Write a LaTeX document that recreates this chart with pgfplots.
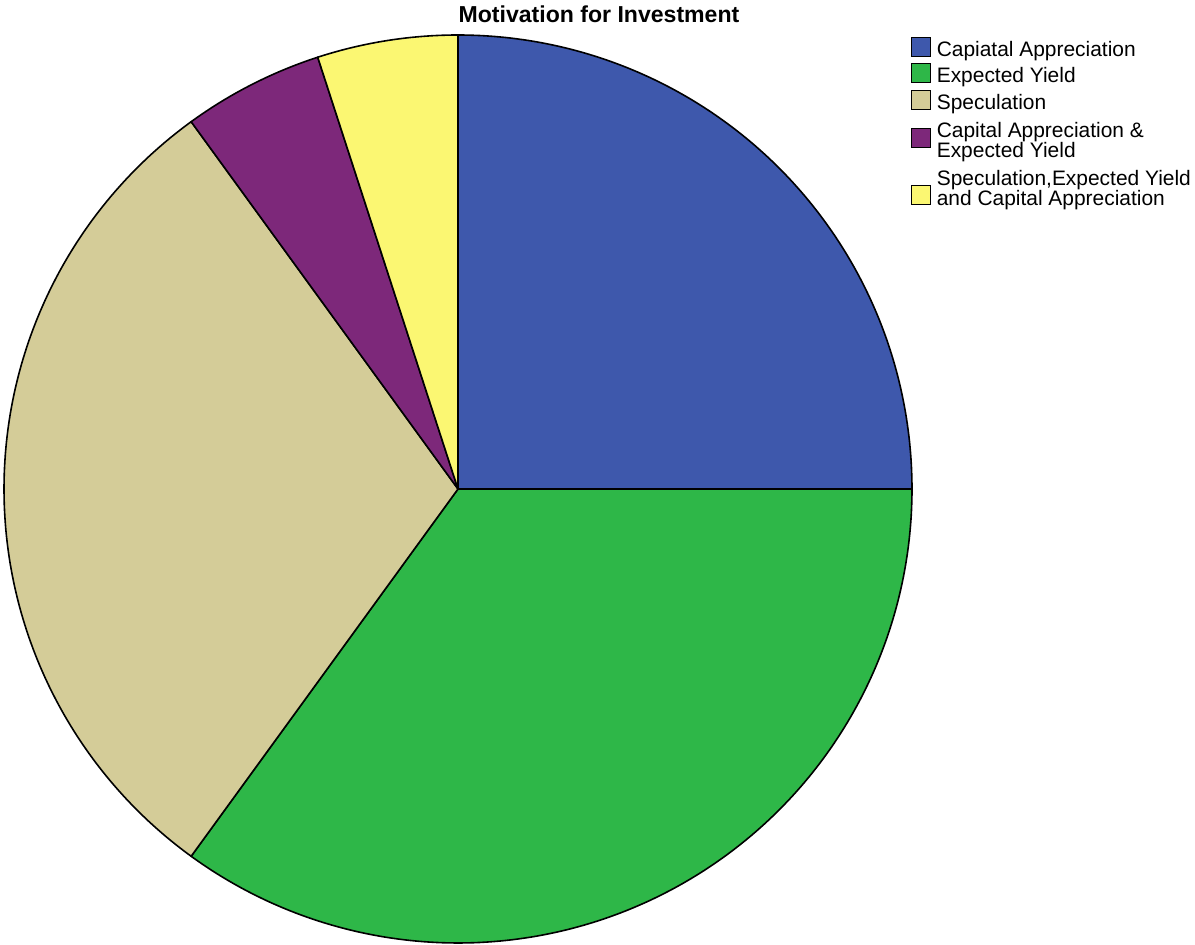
\documentclass[border=0pt]{standalone}
\usepackage{pgfplots}
\pgfplotsset{compat=1.18}
\usepackage{fontspec}
\setmainfont{Liberation Sans}
\definecolor{cBlue}{RGB}{62,88,172}
\definecolor{cGreen}{RGB}{46,183,72}
\definecolor{cTan}{RGB}{212,204,152}
\definecolor{cPurple}{RGB}{125,40,122}
\definecolor{cYellow}{RGB}{251,247,114}
% slice percentages, clockwise from 12 o'clock
\def\pA{25}% Capiatal Appreciation
\def\pB{35}% Expected Yield
\def\pC{30}% Speculation
\def\pD{5}%  Capital Appreciation & Expected Yield
\def\pE{5}%  Speculation, Expected Yield and Capital Appreciation
\begin{document}
\begin{tikzpicture}
\path[use as bounding box] (0,0) rectangle (896.25pt,708.75pt);
\pgfmathsetmacro\aO{90}
\pgfmathsetmacro\aA{\aO-3.6*\pA}
\pgfmathsetmacro\aB{\aA-3.6*\pB}
\pgfmathsetmacro\aC{\aB-3.6*\pC}
\pgfmathsetmacro\aD{\aC-3.6*\pD}
\pgfmathsetmacro\aE{\aD-3.6*\pE}
\begin{axis}[at={(343.5pt,342pt)}, anchor=center, scale only axis,
  width=681pt, height=681pt, xmin=-1, xmax=1, ymin=-1, ymax=1,
  hide axis, clip=false]
\addplot[fill=cBlue, draw=black, line width=1.2pt, line join=round, domain=\aA:\aO, samples=120, variable=\t] ({cos(\t)},{sin(\t)}) -- (axis cs:0,0) -- cycle;
\addplot[fill=cGreen, draw=black, line width=1.2pt, line join=round, domain=\aB:\aA, samples=160, variable=\t] ({cos(\t)},{sin(\t)}) -- (axis cs:0,0) -- cycle;
\addplot[fill=cTan, draw=black, line width=1.2pt, line join=round, domain=\aC:\aB, samples=140, variable=\t] ({cos(\t)},{sin(\t)}) -- (axis cs:0,0) -- cycle;
\addplot[fill=cPurple, draw=black, line width=1.2pt, line join=round, domain=\aD:\aC, samples=40, variable=\t] ({cos(\t)},{sin(\t)}) -- (axis cs:0,0) -- cycle;
\addplot[fill=cYellow, draw=black, line width=1.2pt, line join=round, domain=\aE:\aD, samples=40, variable=\t] ({cos(\t)},{sin(\t)}) -- (axis cs:0,0) -- cycle;
\end{axis}
% title
\node[anchor=base, inner sep=0, font=\fontsize{17.3pt}{20pt}\selectfont\bfseries] at (449.25pt,691.7pt) {Motivation for Investment};
% legend
\begin{scope}[every node/.style={anchor=base west, inner sep=0, font=\fontsize{15.7pt}{19pt}\selectfont}]
\draw[fill=cBlue, line width=1.2pt] (683.6pt,666.4pt) rectangle (697.9pt,680.7pt);
\draw[fill=cGreen, line width=1.2pt] (683.6pt,646.9pt) rectangle (697.9pt,661.2pt);
\draw[fill=cTan, line width=1.2pt] (683.6pt,626.6pt) rectangle (697.9pt,640.9pt);
\draw[fill=cPurple, line width=1.2pt] (683.6pt,598.1pt) rectangle (697.9pt,612.4pt);
\draw[fill=cYellow, line width=1.2pt] (683.6pt,555.4pt) rectangle (697.9pt,569.7pt);
\node at (702.4pt,666pt) {Capiatal Appreciation};
\node at (702.4pt,646.5pt) {Expected Yield};
\node at (702.4pt,626.25pt) {Speculation};
\node at (702.4pt,605.25pt) {Capital Appreciation \&};
\node at (702.4pt,590.25pt) {Expected Yield};
\node at (702.4pt,569.25pt) {Speculation,Expected Yield};
\node at (702.4pt,554.25pt) {and Capital Appreciation};
\end{scope}
\end{tikzpicture}
\end{document}
